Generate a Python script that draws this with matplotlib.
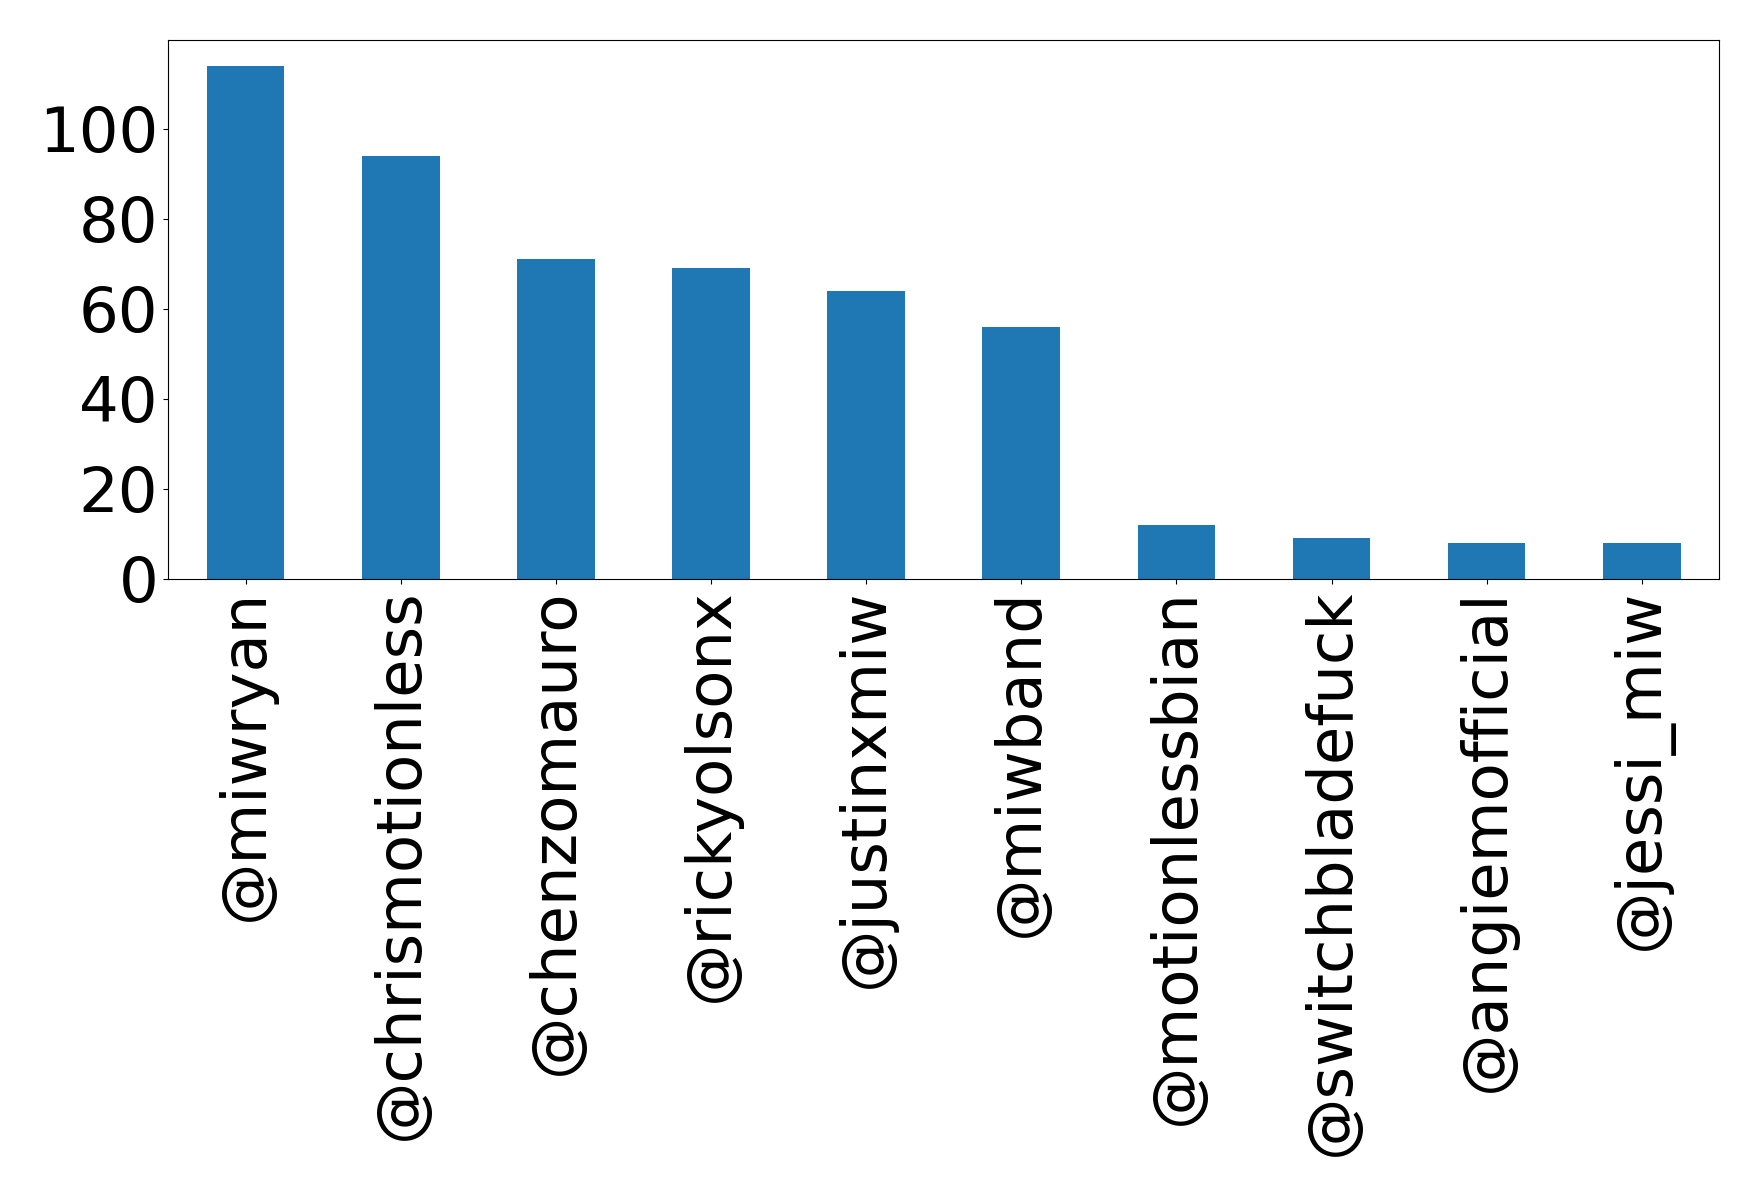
import matplotlib
matplotlib.use("Agg")
import matplotlib.pyplot as plt
import pandas as pd

# mentions per account
accounts = ['@miwryan', '@chrismotionless', '@chenzomauro', '@rickyolsonx',
            '@justinxmiw', '@miwband', '@motionlessbian', '@switchbladefuck',
            '@angiemofficial', '@jessi_miw']
counts = [114, 94, 71, 69, 64, 56, 12, 9, 8, 8]

s = pd.Series(counts, index=accounts)

fig, ax = plt.subplots(figsize=(17.58, 11.96), dpi=100)
s.plot(kind='bar', ax=ax, fontsize=45)

fig.subplots_adjust(left=0.0956, right=0.978, top=0.9666, bottom=0.516)
fig.savefig('out.png', dpi=100)
